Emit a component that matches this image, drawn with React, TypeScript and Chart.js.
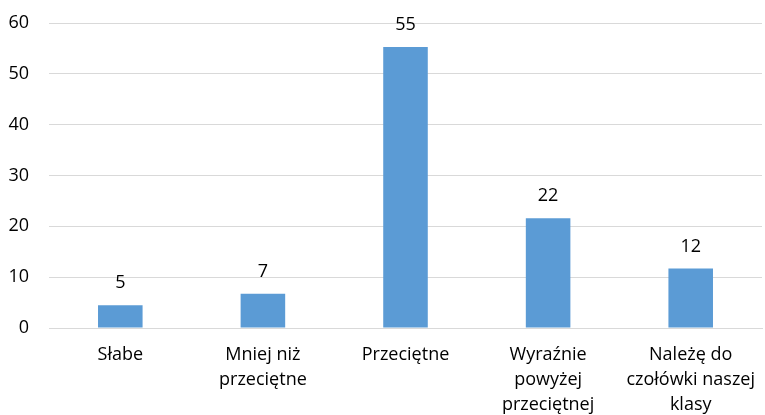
import React, { useEffect, useRef } from "react";
import { Chart, registerables } from "chart.js";

Chart.register(...registerables);

const categories: string[][] = [
  ["Słabe"],
  ["Mniej niż", "przeciętne"],
  ["Przeciętne"],
  ["Wyraźnie", "powyżej", "przeciętnej"],
  ["Należę do", "czołówki naszej", "klasy"],
];
const values: number[] = [4.5, 6.75, 55.3, 21.6, 11.7];
const valueLabels: string[] = ["5", "7", "55", "22", "12"];
const yTicks: number[] = [0, 10, 20, 30, 40, 50, 60];

const FONT = "'Open Sans', 'Liberation Sans', sans-serif";

const dataLabelPlugin = {
  id: "dataLabels",
  afterDatasetsDraw(chart: any) {
    const ctx = chart.ctx;
    const meta = chart.getDatasetMeta(0);
    ctx.save();
    ctx.font = `18px ${FONT}`;
    ctx.fillStyle = "#000";
    ctx.textAlign = "center";
    ctx.textBaseline = "alphabetic";
    meta.data.forEach((bar: any, i: number) => {
      ctx.fillText(valueLabels[i], bar.x, bar.y - 17);
    });
    ctx.restore();
  },
};

export default function App() {
  const ref = useRef<HTMLCanvasElement | null>(null);
  useEffect(() => {
    document.body.style.margin = "0";
    document.body.style.overflow = "hidden";
    const chart = new Chart(ref.current!, {
      type: "bar",
      data: {
        labels: categories,
        datasets: [
          {
            data: values,
            backgroundColor: "#5B9BD5",
            borderWidth: 0,
            barPercentage: 0.3125,
            categoryPercentage: 1,
          },
        ],
      },
      options: {
        animation: false,
        responsive: true,
        maintainAspectRatio: false,
        layout: { padding: { top: 23, left: 8, right: 0, bottom: 0 } },
        plugins: {
          legend: { display: false },
          tooltip: { enabled: false },
        },
        scales: {
          x: {
            grid: { display: false, drawTicks: false },
            border: { display: true, color: "#D9D9D9", width: 1 },
            ticks: {
              color: "#000",
              font: { family: FONT, size: 18, lineHeight: 25 / 18 },
              padding: 14,
              maxRotation: 0,
              autoSkip: false,
            },
            afterFit: (s: any) => {
              s.height = 87;
            },
          },
          y: {
            min: 0,
            max: 60,
            afterBuildTicks: (s: any) => {
              s.ticks = yTicks.map((v) => ({ value: v }));
            },
            grid: {
              color: "#D9D9D9",
              lineWidth: 1,
              drawTicks: true,
              tickLength: 20,
              tickColor: "rgba(0,0,0,0)",
            },
            border: { display: false },
            ticks: {
              color: "#000",
              font: { family: FONT, size: 18 },
              padding: 0,
            },
            afterFit: (s: any) => {
              s.width = 41;
            },
          },
        },
      },
      plugins: [dataLabelPlugin],
    });
    return () => chart.destroy();
  }, []);
  return (
    <div style={{ width: 769, height: 415, position: "relative" }}>
      <canvas ref={ref} />
    </div>
  );
}
